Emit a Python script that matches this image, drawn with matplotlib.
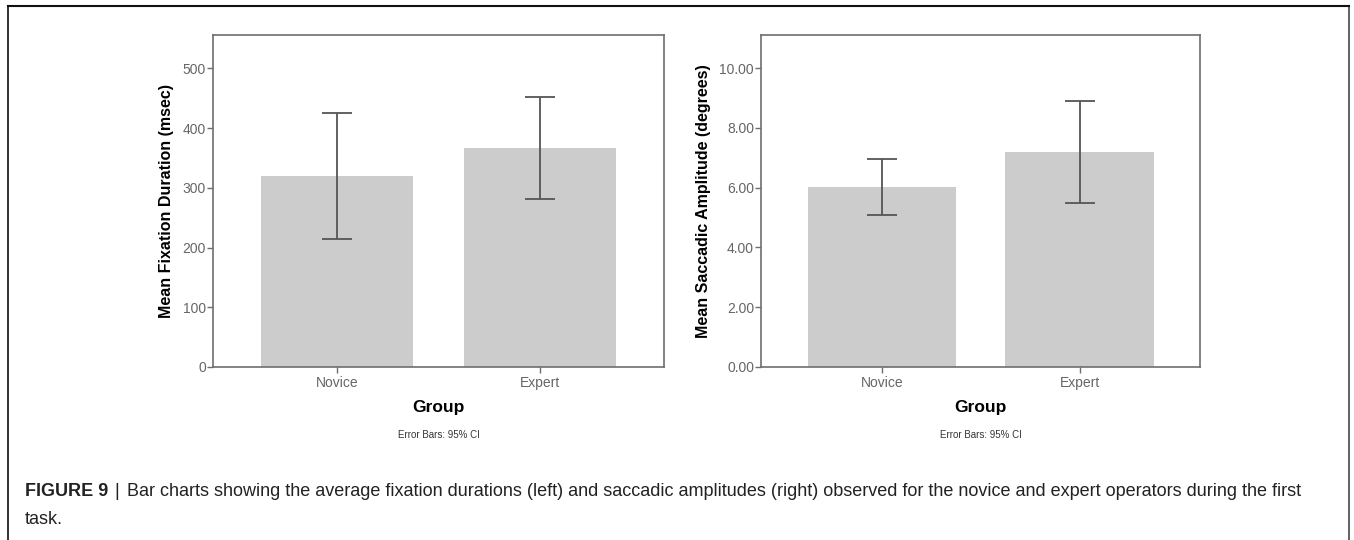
import matplotlib
matplotlib.use("Agg")
import matplotlib.pyplot as plt
from matplotlib.lines import Line2D

plt.rcParams['font.family'] = ['Liberation Sans', 'DejaVu Sans']

groups = ["Novice", "Expert"]
fix_mean = [320, 366]
fix_lo = [215, 281]
fix_hi = [426, 452]
sac_mean = [6.02, 7.19]
sac_lo = [5.09, 5.49]
sac_hi = [6.96, 8.91]
fix_ticks = [0, 100, 200, 300, 400, 500]
fix_ticklabels = ["0", "100", "200", "300", "400", "500"]
sac_ticks = [0, 2, 4, 6, 8, 10]
sac_ticklabels = ["0.00", "2.00", "4.00", "6.00", "8.00", "10.00"]

W, H = 1354, 540
fig = plt.figure(figsize=(W / 100, H / 100), dpi=100)

def ax_rect(x0, y0, x1, y1):
    return [x0 / W, 1 - y1 / H, (x1 - x0) / W, (y1 - y0) / H]

edge = "#6e6e6e"
tickc = "#666666"

def panel(rect, means, lo, hi, ticks, ticklabels, ymax, ylabel):
    ax = fig.add_axes(rect)
    x = list(range(len(groups)))
    ax.bar(x, means, width=0.75, color="#cccccc", edgecolor="none", zorder=1)
    err_lo = [m - l for m, l in zip(means, lo)]
    err_hi = [h - m for m, h in zip(means, hi)]
    ax.errorbar(x, means, yerr=[err_lo, err_hi], fmt="none", ecolor="#555555",
                elinewidth=1.3, capsize=11, capthick=1.3, zorder=3)
    ax.set_xlim(-0.613, 1.61)
    ax.set_ylim(0, ymax)
    ax.set_yticks(ticks)
    ax.set_yticklabels(ticklabels)
    ax.set_xticks(x)
    ax.set_xticklabels(groups)
    for s in ax.spines.values():
        s.set_color(edge)
        s.set_linewidth(1.2)
    ax.tick_params(axis="both", direction="out", length=4, width=1.0,
                   color=edge, labelcolor=tickc, labelsize=10, pad=1)
    ax.tick_params(axis="x", pad=2.5)
    ax.set_ylabel(ylabel, fontsize=11.5, fontweight="bold", color="black", labelpad=6)
    ax.set_xlabel("Group", fontsize=12.5, fontweight="bold", color="black", labelpad=7)
    return ax

ax1 = panel(ax_rect(213, 35, 664, 367), fix_mean, fix_lo, fix_hi, fix_ticks,
            fix_ticklabels, 556, "Mean Fixation Duration (msec)")
ax2 = panel(ax_rect(761, 35, 1200, 367), sac_mean, sac_lo, sac_hi, sac_ticks,
            sac_ticklabels, 11.11, "Mean Saccadic Amplitude (degrees)")

for ax in (ax1, ax2):
    pos = ax.get_position()
    fig.text(pos.x0 + pos.width / 2, 1 - 435 / H, "Error Bars: 95% CI",
             ha="center", va="center", fontsize=7, color="#333333")

# outer frame (open at bottom)
fig.add_artist(Line2D([8 / W, 8 / W], [0, 1 - 6 / H], transform=fig.transFigure,
                      color="#222222", lw=1.3))
fig.add_artist(Line2D([1349 / W, 1349 / W], [0, 1 - 6 / H], transform=fig.transFigure,
                      color="#555555", lw=1.3))
fig.add_artist(Line2D([8 / W, 1349 / W], [1 - 6 / H, 1 - 6 / H], transform=fig.transFigure,
                      color="#111111", lw=1.5))

fs = 13.0
cap_y = 1 - 492 / H
t1 = fig.text(25 / W, cap_y, "FIGURE 9", fontsize=fs, fontweight="bold",
              color="#222222", va="center", ha="left")
fig.canvas.draw()
bb = t1.get_window_extent()
t2 = fig.text((bb.x1 + 6) / W, cap_y, "|", fontsize=fs, color="#222222",
              va="center", ha="left")
bb2 = t2.get_window_extent()
fig.text((bb2.x1 + 8) / W, cap_y,
         "Bar charts showing the average fixation durations (left) and saccadic amplitudes (right) "
         "observed for the novice and expert operators during the first",
         fontsize=fs, color="#222222", va="center", ha="left")
fig.text(25 / W, 1 - 519 / H, "task.", fontsize=fs, color="#222222",
         va="center", ha="left")

fig.savefig("out.png", dpi=100)
